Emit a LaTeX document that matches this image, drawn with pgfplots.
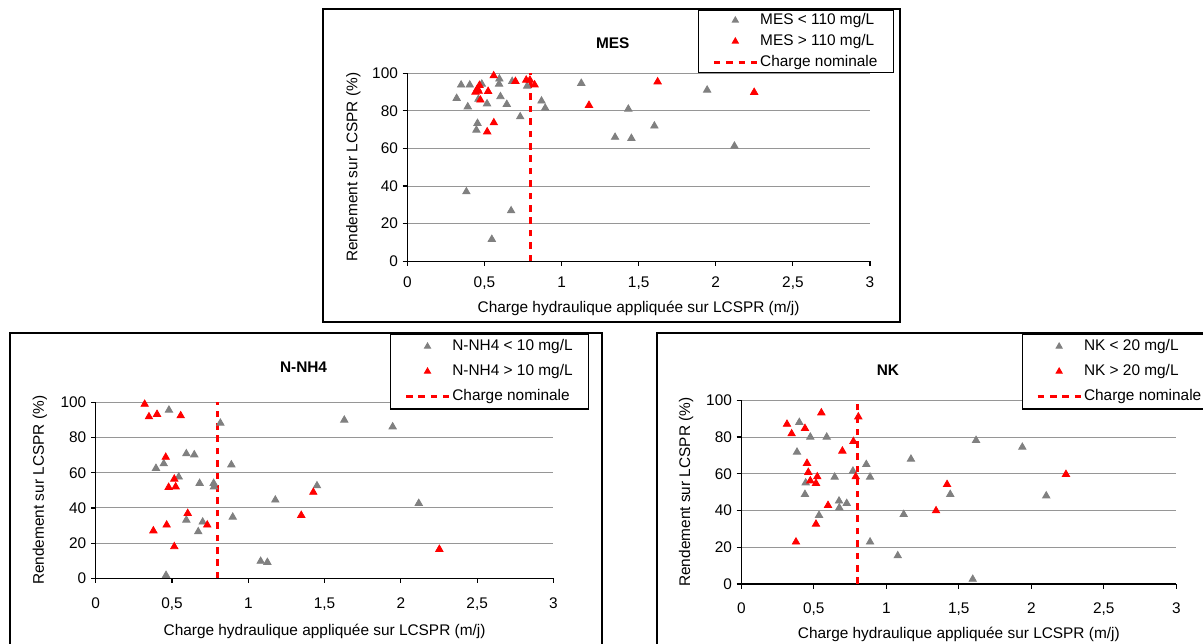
\documentclass[border=0pt]{standalone}
\usepackage{fontspec}
\setmainfont{Liberation Sans}
\usepackage{pgfplots}
\pgfplotsset{compat=1.18}
\definecolor{ptgray}{RGB}{128,128,128}
\definecolor{ptred}{RGB}{255,0,0}
\definecolor{gridgray}{RGB}{150,150,150}
\newcommand\pf{\fontsize{7.7}{9.2}\selectfont}
\tikzset{paneltitle/.style={font=\pf\bfseries, anchor=center, inner sep=0pt}}

\pgfplotsset{
  panel/.style={
    scale only axis, anchor=south west, clip=false,
    xmin=0, xmax=3, ymin=0, ymax=100,
    axis x line=bottom, axis y line=left,
    axis line style={-, black, line width=0.6pt},
    xtick={0,0.5,1,1.5,2,2.5,3},
    xticklabels={0,{0,5},1,{1,5},2,{2,5},3},
    ytick={0,20,40,60,80,100},
    yticklabels={0,20,40,60,80,100},
    tick align=outside, major tick length=2.3pt,
    tick style={black, line width=0.6pt},
    ymajorgrids, grid style={gridgray, line width=0.5pt},
    tick label style={font=\pf},
    xticklabel style={inner sep=0pt, anchor=north, yshift=-5.3pt},
    yticklabel style={inner sep=0pt, anchor=east, xshift=-2.2pt},
    label style={font=\pf},
    xlabel={Charge hydraulique appliquée sur LCSPR (m/j)},
    ylabel={Rendement sur LCSPR (\%)},
    legend cell align=left,
    legend style={anchor=north west, draw=black, line width=0.6pt,
      inner xsep=7pt, font=\pf,
      nodes={inner sep=1pt, text height=6pt, text depth=1.8pt}},
  },
  lowpts/.style={only marks, mark=triangle*, mark size=2.1pt, color=ptgray,
    mark options={draw=ptgray, fill=ptgray},
    legend image code/.code={\draw[mark repeat=2,mark phase=2,##1,mark size=1.6pt]
      plot coordinates {(0pt,0pt) (10.75pt,0pt) (21.5pt,0pt)};}},
  highpts/.style={only marks, mark=triangle*, mark size=2.1pt, color=ptred,
    mark options={draw=ptred, fill=ptred},
    legend image code/.code={\draw[mark repeat=2,mark phase=2,##1,mark size=1.6pt]
      plot coordinates {(0pt,0pt) (10.75pt,0pt) (21.5pt,0pt)};}},
  nominal/.style={ptred, line width=1.35pt, dash pattern=on 3.3pt off 2.9pt,
    legend image code/.code={\draw[##1] (0pt,0pt) -- (21.5pt,0pt);}},
}

\begin{document}
\begin{tikzpicture}
\useasboundingbox (0,0) rectangle (601.5pt,321.5pt);
\clip (0,0) rectangle (601.5pt,321.5pt);
\fill[white] (0,0) rectangle (601.5pt,321.5pt);

% panel frames
\draw[black, line width=0.6pt] (161.5pt,160.5pt) rectangle (450pt,317pt);
\draw[black, line width=0.6pt] (5pt,-5pt) rectangle (301pt,155pt);
\draw[black, line width=0.6pt] (328.5pt,-5pt) rectangle (620pt,155pt);

% MES
\begin{axis}[panel, at={(203.65pt,190.85pt)}, width=231.35pt, height=94pt,
  xlabel style={at={(axis description cs:0.5,0)}, anchor=center, yshift=-23.35pt},
  ylabel style={at={(axis description cs:-0.1167,0.5)}, anchor=center},
  legend style={at={(0.628,1.340)}, row sep=0.7pt, inner ysep=0.3pt}]
\node[paneltitle] at (rel axis cs:0.444,1.16) {MES};
\addplot[lowpts] coordinates {
  (0.349,93.8) (0.405,93.8) (0.483,94.3) (0.597,97.0) (0.595,94.3) (0.680,95.7)
  (0.777,93.2) (0.320,86.7) (0.392,82.2) (0.461,86.2) (0.517,83.8) (0.604,87.6)
  (0.645,83.5) (0.870,85.3) (0.894,81.5) (0.732,76.9) (0.455,73.4) (0.448,69.8)
  (0.383,37.0) (0.673,26.9) (0.548,11.7) (1.128,94.7) (1.433,81.0) (1.347,66.0)
  (1.453,65.4) (1.602,72.0) (1.944,91.1) (2.121,61.3)
};
\addlegendentry{MES < 110 mg/L}
\addplot[highpts] coordinates {
  (0.560,98.7) (0.468,93.6) (0.455,91.8) (0.442,90.0) (0.463,90.5) (0.524,90.4)
  (0.474,85.8) (0.701,95.7) (0.771,96.4) (0.795,96.4) (0.825,93.9) (1.178,83.0)
  (0.561,73.7) (0.518,68.9) (1.623,95.5) (2.249,89.9)
};
\addlegendentry{MES > 110 mg/L}
\addplot[nominal] coordinates {(0.8,0) (0.8,100)};
\addlegendentry{Charge nominale}
\end{axis}

% N-NH4
\begin{axis}[panel, at={(47.85pt,32.35pt)}, width=228.9pt, height=88pt,
  xticklabel style={yshift=-2pt},
  xlabel style={at={(axis description cs:0.5,0)}, anchor=center, yshift=-26.35pt},
  ylabel style={at={(axis description cs:-0.1217,0.5)}, anchor=center},
  legend style={at={(0.643,1.392)}, row sep=2.7pt, inner ysep=1.35pt}]
\node[paneltitle] at (rel axis cs:0.454,1.2006) {N-NH4};
\addplot[lowpts] coordinates {
  (0.480,95.6) (0.817,88.2) (0.594,70.8) (0.646,70.2) (0.889,64.5) (0.395,62.5)
  (0.446,65.1) (0.544,57.6) (0.681,54.0) (0.773,54.0) (0.775,52.0) (0.594,33.1)
  (0.701,32.0) (0.672,26.5) (0.898,34.8) (1.177,44.5) (1.450,52.6) (1.081,9.7)
  (1.125,9.1) (0.461,1.7) (1.629,89.9) (1.946,86.1) (2.117,42.6)
};
\addlegendentry{N-NH4 < 10 mg/L}
\addplot[highpts] coordinates {
  (0.321,98.9) (0.349,91.8) (0.402,93.2) (0.557,92.4) (0.459,68.8) (0.515,56.4)
  (0.478,51.7) (0.524,52.0) (0.603,36.9) (0.465,30.3) (0.378,27.0) (0.731,30.3)
  (0.515,18.0) (1.347,35.8) (1.426,48.9) (2.252,16.5)
};
\addlegendentry{N-NH4 > 10 mg/L}
\addplot[nominal] coordinates {(0.8,0) (0.8,100)};
\addlegendentry{Charge nominale}
\end{axis}

% NK
\begin{axis}[panel, at={(370.65pt,29.5pt)}, width=217.5pt, height=91.85pt,
  xticklabel style={yshift=-1.7pt},
  xlabel style={at={(axis description cs:0.5,0)}, anchor=center, yshift=-25pt},
  ylabel style={at={(axis description cs:-0.127,0.5)}, anchor=center},
  legend style={at={(0.6446,1.3647)}, row sep=2.7pt, inner ysep=1.35pt}]
\node[paneltitle] at (rel axis cs:0.337,1.165) {NK};
\addplot[lowpts] coordinates {
  (0.400,88.0) (0.476,80.0) (0.589,80.0) (0.384,71.8) (0.862,65.1) (1.170,68.0)
  (0.770,61.5) (0.644,58.2) (0.888,58.2) (0.444,55.1) (0.439,48.8) (0.674,45.2)
  (0.727,43.9) (0.676,41.5) (0.536,37.4) (1.120,37.9) (0.888,22.9) (1.079,15.4)
  (1.441,48.8) (1.619,78.2) (1.938,74.5) (2.103,48.0) (1.596,2.6)
};
\addlegendentry{NK < 20 mg/L}
\addplot[highpts] coordinates {
  (0.552,93.2) (0.807,91.0) (0.315,87.0) (0.439,84.7) (0.347,81.8) (0.773,77.6)
  (0.697,72.4) (0.453,65.7) (0.462,60.8) (0.524,58.4) (0.789,58.4) (0.476,56.2)
  (0.515,54.8) (0.598,42.8) (0.515,32.6) (0.377,22.9) (1.419,54.2) (1.343,39.9)
  (2.239,59.7)
};
\addlegendentry{NK > 20 mg/L}
\addplot[nominal] coordinates {(0.8,0) (0.8,100)};
\addlegendentry{Charge nominale}
\end{axis}
\end{tikzpicture}
\end{document}
